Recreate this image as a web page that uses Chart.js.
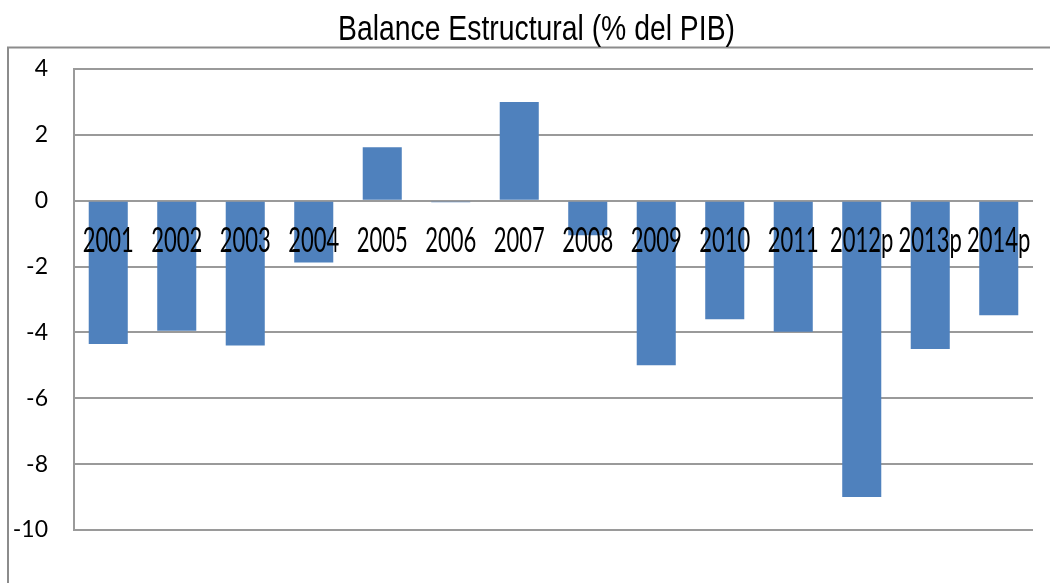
<!DOCTYPE html>
<html>
<head>
<meta charset="utf-8">
<script src="https://cdn.jsdelivr.net/npm/chart.js@4.4.1/dist/chart.umd.min.js"></script>
<style>
  html, body { margin: 0; padding: 0; background: #fff; }
  #wrap { width: 1050px; height: 583px; }
</style>
</head>
<body>
<div id="wrap"><canvas id="c" width="1050" height="583"></canvas></div>
<script>
const categories = ['2001','2002','2003','2004','2005','2006','2007','2008','2009','2010','2011','2012p','2013p','2014p'];
const balance = [-4.35, -3.95, -4.4, -1.88, 1.62, -0.05, 3.0, -1.05, -5.0, -3.6, -3.98, -9.0, -4.5, -3.48];
const yTicks = [4, 2, 0, -2, -4, -6, -8, -10];
const titleText = 'Balance Estructural (% del PIB)';

const GRID = '#9a9a9a';
const LABEL_FONT = '22px Lato, "Open Sans", sans-serif';

const frame = {
  id: 'frame',
  beforeDraw(chart) {
    const ctx = chart.ctx;
    ctx.save();
    ctx.strokeStyle = '#8c8c8c';
    ctx.lineWidth = 2;
    ctx.beginPath();
    ctx.moveTo(8, 583);
    ctx.lineTo(8, 47.5);
    ctx.lineTo(1050, 47.5);
    ctx.stroke();
    // title, drawn in a condensed style like the original
    ctx.font = '35px "Liberation Sans", Arial, sans-serif';
    ctx.fillStyle = '#000';
    ctx.textAlign = 'center';
    ctx.textBaseline = 'alphabetic';
    const w = ctx.measureText(titleText).width;
    const sx = 397 / w;
    ctx.translate(536.5, 40);
    ctx.scale(sx, 1);
    ctx.fillText(titleText, 0, 0);
    ctx.restore();
  }
};

const catLabels = {
  id: 'catLabels',
  afterDatasetsDraw(chart) {
    const ctx = chart.ctx;
    const xs = chart.scales.x, ys = chart.scales.y;
    const y0 = ys.getPixelForValue(0) + 39.5;
    ctx.save();
    ctx.font = LABEL_FONT;
    ctx.fillStyle = '#000';
    ctx.textAlign = 'center';
    ctx.textBaseline = 'middle';
    categories.forEach((c, i) => {
      const x = xs.getPixelForValue(i);
      ctx.save();
      ctx.translate(x, y0);
      ctx.scale(1, 1.62);
      ctx.fillText(c, 0, 0);
      ctx.restore();
    });
    ctx.restore();
  }
};

new Chart(document.getElementById('c'), {
  type: 'bar',
  data: {
    labels: categories,
    datasets: [{
      data: balance,
      backgroundColor: '#4F81BD',
      borderWidth: 0,
      barPercentage: 0.57,
      categoryPercentage: 1.0
    }]
  },
  options: {
    responsive: false,
    animation: false,
    devicePixelRatio: 1,
    layout: { padding: { left: 0, right: 17, top: 69, bottom: 53 } },
    plugins: {
      legend: { display: false },
      tooltip: { enabled: false },
      title: { display: false }
    },
    scales: {
      x: {
        grid: { display: false, drawTicks: false },
        border: { display: false },
        ticks: { display: false }
      },
      y: {
        min: -10,
        max: 4,
        afterBuildTicks(scale) { scale.ticks = yTicks.map(v => ({ value: v })); },
        afterFit(scale) { scale.width = 74; },
        grid: { color: GRID, lineWidth: 2, drawTicks: false },
        border: { display: true, color: GRID, width: 2 },
        ticks: {
          color: '#000',
          padding: 26,
          font: { family: 'Lato, "Open Sans", sans-serif', size: 23 }
        }
      }
    }
  },
  plugins: [frame, catLabels]
});
</script>
</body>
</html>
